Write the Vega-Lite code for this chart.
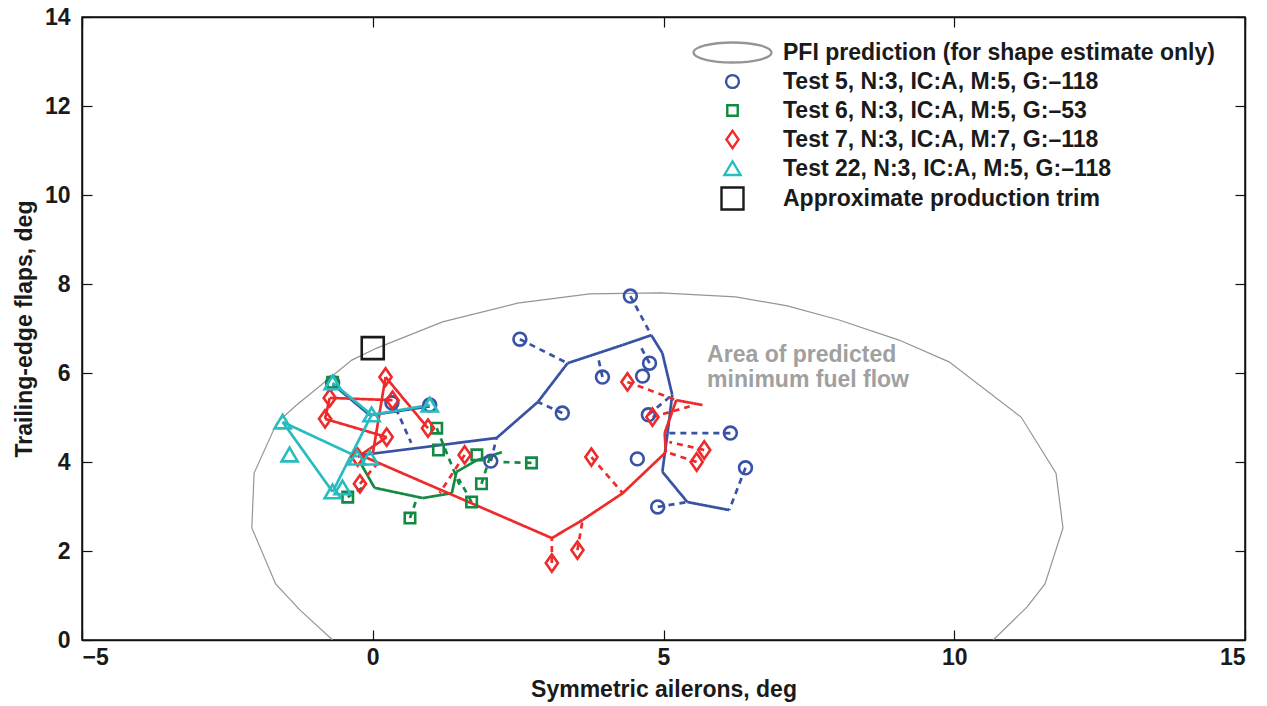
{
  "$schema": "https://vega.github.io/schema/vega-lite/v6.json",
  "width": 1163,
  "height": 623,
  "autosize": "none",
  "padding": {"left": 82, "top": 17, "right": 22, "bottom": 66},
  "background": "white",
  "config": {
    "font": "Liberation Sans",
    "view": {"stroke": "#111111", "strokeWidth": 1.5},
    "axis": {
      "grid": false,
      "domainColor": "#111111",
      "domainWidth": 1.5,
      "tickColor": "#111111",
      "tickWidth": 1.2,
      "tickSize": -10,
      "labelFont": "Liberation Sans",
      "labelFontSize": 23,
      "labelFontWeight": "bold",
      "labelColor": "#1a1a1a",
      "titleFont": "Liberation Sans",
      "titleFontSize": 23,
      "titleFontWeight": "bold",
      "titleColor": "#1a1a1a"
    }
  },
  "datasets": {
    "pfi": [
      {"i": 0, "x": -0.69, "y": 0},
      {"i": 1, "x": -1.25, "y": 0.67},
      {"i": 2, "x": -1.67, "y": 1.26},
      {"i": 3, "x": -2.08, "y": 2.52},
      {"i": 4, "x": -2.04, "y": 3.75},
      {"i": 5, "x": -1.65, "y": 4.88},
      {"i": 6, "x": -1.31, "y": 5.28},
      {"i": 7, "x": -0.36, "y": 6.29},
      {"i": 8, "x": 0.07, "y": 6.56},
      {"i": 9, "x": 1.2, "y": 7.15},
      {"i": 10, "x": 2.49, "y": 7.57},
      {"i": 11, "x": 3.73, "y": 7.78},
      {"i": 12, "x": 4.95, "y": 7.8},
      {"i": 13, "x": 6.24, "y": 7.71},
      {"i": 14, "x": 7.13, "y": 7.51},
      {"i": 15, "x": 8.02, "y": 7.19},
      {"i": 16, "x": 9.05, "y": 6.74},
      {"i": 17, "x": 9.91, "y": 6.25},
      {"i": 18, "x": 11.15, "y": 5.01},
      {"i": 19, "x": 11.75, "y": 3.75},
      {"i": 20, "x": 11.87, "y": 2.52},
      {"i": 21, "x": 11.56, "y": 1.26},
      {"i": 22, "x": 11.25, "y": 0.74},
      {"i": 23, "x": 10.67, "y": 0}
    ],
    "seg": [
      {"series": "Test 5", "style": "solid", "x": -0.69, "y": 5.75, "x2": -0.05, "y2": 5.05},
      {"series": "Test 5", "style": "solid", "x": -0.05, "y": 5.05, "x2": 0.98, "y2": 5.25},
      {"series": "Test 5", "style": "solid", "x": -0.17, "y": 4.16, "x2": 2.13, "y2": 4.54},
      {"series": "Test 5", "style": "solid", "x": 2.13, "y": 4.54, "x2": 2.84, "y2": 5.35},
      {"series": "Test 5", "style": "solid", "x": 2.84, "y": 5.35, "x2": 3.35, "y2": 6.22},
      {"series": "Test 5", "style": "solid", "x": 3.35, "y": 6.22, "x2": 4.3, "y2": 6.63},
      {"series": "Test 5", "style": "solid", "x": 4.3, "y": 6.63, "x2": 4.79, "y2": 6.85},
      {"series": "Test 5", "style": "solid", "x": 4.79, "y": 6.85, "x2": 4.98, "y2": 6.45},
      {"series": "Test 5", "style": "solid", "x": 4.98, "y": 6.45, "x2": 5.15, "y2": 5.51},
      {"series": "Test 5", "style": "solid", "x": 5.15, "y": 5.51, "x2": 5.07, "y2": 4.65},
      {"series": "Test 5", "style": "solid", "x": 5.07, "y": 4.65, "x2": 4.98, "y2": 3.78},
      {"series": "Test 5", "style": "solid", "x": 4.98, "y": 3.78, "x2": 5.41, "y2": 3.1},
      {"series": "Test 5", "style": "solid", "x": 5.41, "y": 3.1, "x2": 6.13, "y2": 2.92},
      {"series": "Test 5", "style": "dashed", "x": 2.53, "y": 6.76, "x2": 3.35, "y2": 6.22},
      {"series": "Test 5", "style": "dashed", "x": 4.43, "y": 7.73, "x2": 4.79, "y2": 6.85},
      {"series": "Test 5", "style": "dashed", "x": 3.26, "y": 5.1, "x2": 2.84, "y2": 5.35},
      {"series": "Test 5", "style": "dashed", "x": 3.95, "y": 5.91, "x2": 3.87, "y2": 6.38},
      {"series": "Test 5", "style": "dashed", "x": 4.76, "y": 6.22, "x2": 4.62, "y2": 6.56},
      {"series": "Test 5", "style": "dashed", "x": 4.74, "y": 5.06, "x2": 5.15, "y2": 5.51},
      {"series": "Test 5", "style": "dashed", "x": 6.15, "y": 4.65, "x2": 5.07, "y2": 4.65},
      {"series": "Test 5", "style": "dashed", "x": 6.41, "y": 3.87, "x2": 6.13, "y2": 2.92},
      {"series": "Test 5", "style": "dashed", "x": 4.9, "y": 2.99, "x2": 5.41, "y2": 3.1},
      {"series": "Test 5", "style": "dashed", "x": 0.4, "y": 5.2, "x2": 0.66, "y2": 4.43},
      {"series": "Test 5", "style": "dashed", "x": 2.03, "y": 4.02, "x2": 2.13, "y2": 4.54},
      {"series": "Test 6", "style": "solid", "x": -0.22, "y": 4.0, "x2": 0.03, "y2": 3.42},
      {"series": "Test 6", "style": "solid", "x": 0.03, "y": 3.42, "x2": 0.86, "y2": 3.19},
      {"series": "Test 6", "style": "solid", "x": 0.86, "y": 3.19, "x2": 1.36, "y2": 3.3},
      {"series": "Test 6", "style": "solid", "x": 1.36, "y": 3.3, "x2": 1.44, "y2": 3.78},
      {"series": "Test 6", "style": "solid", "x": 1.44, "y": 3.78, "x2": 1.79, "y2": 4.04},
      {"series": "Test 6", "style": "solid", "x": 1.79, "y": 4.04, "x2": 2.22, "y2": 4.22},
      {"series": "Test 6", "style": "dashed", "x": 1.1, "y": 4.76, "x2": 1.52, "y2": 3.4},
      {"series": "Test 6", "style": "dashed", "x": 1.87, "y": 3.51, "x2": 2.02, "y2": 4.13},
      {"series": "Test 6", "style": "dashed", "x": 1.7, "y": 3.1, "x2": 1.48, "y2": 3.62},
      {"series": "Test 6", "style": "dashed", "x": 2.73, "y": 3.98, "x2": 2.2, "y2": 4.0},
      {"series": "Test 6", "style": "dashed", "x": 0.64, "y": 2.74, "x2": 0.75, "y2": 3.15},
      {"series": "Test 6", "style": "dashed", "x": -0.43, "y": 3.21, "x2": -0.15, "y2": 3.45},
      {"series": "Test 7", "style": "solid", "x": -0.74, "y": 5.44, "x2": 0.34, "y2": 5.39},
      {"series": "Test 7", "style": "solid", "x": -0.82, "y": 4.97, "x2": -0.74, "y2": 5.44},
      {"series": "Test 7", "style": "solid", "x": -0.82, "y": 4.97, "x2": 0.24, "y2": 4.56},
      {"series": "Test 7", "style": "solid", "x": 0.22, "y": 5.91, "x2": 0.95, "y2": 4.76},
      {"series": "Test 7", "style": "solid", "x": 0.0, "y": 4.18, "x2": 0.22, "y2": 5.91},
      {"series": "Test 7", "style": "solid", "x": -0.26, "y": 4.11, "x2": 0.24, "y2": 4.56},
      {"series": "Test 7", "style": "solid", "x": -0.2, "y": 4.15, "x2": 3.08, "y2": 2.29},
      {"series": "Test 7", "style": "solid", "x": 3.08, "y": 2.29, "x2": 3.61, "y2": 2.7},
      {"series": "Test 7", "style": "solid", "x": 3.61, "y": 2.7, "x2": 4.3, "y2": 3.3},
      {"series": "Test 7", "style": "solid", "x": 4.3, "y": 3.3, "x2": 5.04, "y2": 4.22},
      {"series": "Test 7", "style": "solid", "x": 5.04, "y": 4.22, "x2": 5.02, "y2": 4.65},
      {"series": "Test 7", "style": "solid", "x": 5.02, "y": 4.65, "x2": 5.22, "y2": 5.39},
      {"series": "Test 7", "style": "solid", "x": 5.22, "y": 5.39, "x2": 5.67, "y2": 5.28},
      {"series": "Test 7", "style": "dashed", "x": 4.38, "y": 5.8, "x2": 5.22, "y2": 5.39},
      {"series": "Test 7", "style": "dashed", "x": 3.76, "y": 4.11, "x2": 4.3, "y2": 3.3},
      {"series": "Test 7", "style": "dashed", "x": 3.52, "y": 2.02, "x2": 3.61, "y2": 2.7},
      {"series": "Test 7", "style": "dashed", "x": 3.08, "y": 1.73, "x2": 3.08, "y2": 2.29},
      {"series": "Test 7", "style": "dashed", "x": 4.81, "y": 5.01, "x2": 5.45, "y2": 5.25},
      {"series": "Test 7", "style": "dashed", "x": 5.7, "y": 4.27, "x2": 5.1, "y2": 4.45},
      {"series": "Test 7", "style": "dashed", "x": 5.57, "y": 4.0, "x2": 5.06, "y2": 4.22},
      {"series": "Test 7", "style": "dashed", "x": 1.58, "y": 4.16, "x2": 1.15, "y2": 3.3},
      {"series": "Test 7", "style": "dashed", "x": -0.22, "y": 3.51, "x2": 0.07, "y2": 3.95},
      {"series": "Test 22", "style": "solid", "x": -0.69, "y": 5.78, "x2": -0.02, "y2": 5.06},
      {"series": "Test 22", "style": "solid", "x": -0.02, "y": 5.06, "x2": 0.98, "y2": 5.28},
      {"series": "Test 22", "style": "solid", "x": -1.55, "y": 4.9, "x2": -0.27, "y2": 4.12},
      {"series": "Test 22", "style": "solid", "x": -0.69, "y": 3.33, "x2": -1.55, "y2": 4.9},
      {"series": "Test 22", "style": "solid", "x": -0.69, "y": 3.33, "x2": -0.02, "y2": 5.06}
    ],
    "pts": [
      {"series": "Test 5, N:3, IC:A, M:5, G:–118", "x": 2.53, "y": 6.76},
      {"series": "Test 5, N:3, IC:A, M:5, G:–118", "x": 4.43, "y": 7.73},
      {"series": "Test 5, N:3, IC:A, M:5, G:–118", "x": 4.76, "y": 6.22},
      {"series": "Test 5, N:3, IC:A, M:5, G:–118", "x": 4.64, "y": 5.93},
      {"series": "Test 5, N:3, IC:A, M:5, G:–118", "x": 3.95, "y": 5.91},
      {"series": "Test 5, N:3, IC:A, M:5, G:–118", "x": 3.26, "y": 5.1},
      {"series": "Test 5, N:3, IC:A, M:5, G:–118", "x": 4.74, "y": 5.06},
      {"series": "Test 5, N:3, IC:A, M:5, G:–118", "x": 6.15, "y": 4.65},
      {"series": "Test 5, N:3, IC:A, M:5, G:–118", "x": 6.41, "y": 3.87},
      {"series": "Test 5, N:3, IC:A, M:5, G:–118", "x": 4.55, "y": 4.07},
      {"series": "Test 5, N:3, IC:A, M:5, G:–118", "x": 4.9, "y": 2.99},
      {"series": "Test 5, N:3, IC:A, M:5, G:–118", "x": 2.03, "y": 4.02},
      {"series": "Test 5, N:3, IC:A, M:5, G:–118", "x": 0.33, "y": 5.33},
      {"series": "Test 5, N:3, IC:A, M:5, G:–118", "x": -0.69, "y": 5.78},
      {"series": "Test 5, N:3, IC:A, M:5, G:–118", "x": 0.98, "y": 5.28},
      {"series": "Test 6, N:3, IC:A, M:5, G:–53", "x": 1.1, "y": 4.76},
      {"series": "Test 6, N:3, IC:A, M:5, G:–53", "x": 1.13, "y": 4.27},
      {"series": "Test 6, N:3, IC:A, M:5, G:–53", "x": 1.79, "y": 4.16},
      {"series": "Test 6, N:3, IC:A, M:5, G:–53", "x": 1.87, "y": 3.51},
      {"series": "Test 6, N:3, IC:A, M:5, G:–53", "x": 1.7, "y": 3.1},
      {"series": "Test 6, N:3, IC:A, M:5, G:–53", "x": 0.64, "y": 2.74},
      {"series": "Test 6, N:3, IC:A, M:5, G:–53", "x": -0.43, "y": 3.21},
      {"series": "Test 6, N:3, IC:A, M:5, G:–53", "x": 2.73, "y": 3.98},
      {"series": "Test 6, N:3, IC:A, M:5, G:–53", "x": -0.69, "y": 5.79},
      {"series": "Test 7, N:3, IC:A, M:7, G:–118", "x": 0.22, "y": 5.91},
      {"series": "Test 7, N:3, IC:A, M:7, G:–118", "x": -0.74, "y": 5.44},
      {"series": "Test 7, N:3, IC:A, M:7, G:–118", "x": -0.82, "y": 4.97},
      {"series": "Test 7, N:3, IC:A, M:7, G:–118", "x": 0.34, "y": 5.39},
      {"series": "Test 7, N:3, IC:A, M:7, G:–118", "x": 0.24, "y": 4.56},
      {"series": "Test 7, N:3, IC:A, M:7, G:–118", "x": 0.95, "y": 4.76},
      {"series": "Test 7, N:3, IC:A, M:7, G:–118", "x": -0.22, "y": 3.51},
      {"series": "Test 7, N:3, IC:A, M:7, G:–118", "x": -0.26, "y": 4.11},
      {"series": "Test 7, N:3, IC:A, M:7, G:–118", "x": 1.58, "y": 4.16},
      {"series": "Test 7, N:3, IC:A, M:7, G:–118", "x": 4.38, "y": 5.8},
      {"series": "Test 7, N:3, IC:A, M:7, G:–118", "x": 3.76, "y": 4.11},
      {"series": "Test 7, N:3, IC:A, M:7, G:–118", "x": 3.52, "y": 2.02},
      {"series": "Test 7, N:3, IC:A, M:7, G:–118", "x": 3.08, "y": 1.73},
      {"series": "Test 7, N:3, IC:A, M:7, G:–118", "x": 4.81, "y": 5.01},
      {"series": "Test 7, N:3, IC:A, M:7, G:–118", "x": 5.57, "y": 4.0},
      {"series": "Test 7, N:3, IC:A, M:7, G:–118", "x": 5.7, "y": 4.27},
      {"series": "Test 22, N:3, IC:A, M:5, G:–118", "x": -0.69, "y": 5.78},
      {"series": "Test 22, N:3, IC:A, M:5, G:–118", "x": -0.02, "y": 5.06},
      {"series": "Test 22, N:3, IC:A, M:5, G:–118", "x": 0.98, "y": 5.28},
      {"series": "Test 22, N:3, IC:A, M:5, G:–118", "x": -1.55, "y": 4.9},
      {"series": "Test 22, N:3, IC:A, M:5, G:–118", "x": -1.43, "y": 4.16},
      {"series": "Test 22, N:3, IC:A, M:5, G:–118", "x": -0.69, "y": 3.33},
      {"series": "Test 22, N:3, IC:A, M:5, G:–118", "x": -0.52, "y": 3.42},
      {"series": "Test 22, N:3, IC:A, M:5, G:–118", "x": -0.27, "y": 4.09},
      {"series": "Test 22, N:3, IC:A, M:5, G:–118", "x": -0.05, "y": 4.09},
      {"series": "Approximate production trim", "x": 0.0, "y": 6.56}
    ]
  },
  "layer": [
    {
      "data": {"name": "pfi"},
      "mark": {"type": "line", "color": "#959595", "strokeWidth": 1.2, "clip": true},
      "encoding": {
        "x": {"field": "x", "type": "quantitative", "scale": {"domain": [-5, 15], "nice": false, "zero": false},
              "axis": {"orient": "bottom", "values": [-5, 0, 5, 10, 15], "title": "Symmetric ailerons, deg", "labelPadding": 16, "titlePadding": 9}},
        "y": {"field": "y", "type": "quantitative", "scale": {"domain": [0, 14], "nice": false, "zero": false},
              "axis": {"orient": "left", "values": [0, 2, 4, 6, 8, 10, 12, 14], "title": "Trailing-edge flaps, deg", "labelPadding": 22, "titlePadding": 8}},
        "order": {"field": "i", "type": "quantitative"}
      }
    },
    {
      "data": {"name": "seg"},
      "mark": {"type": "rule", "strokeWidth": 2.7, "clip": true},
      "encoding": {
        "x": {"field": "x", "type": "quantitative",
              "axis": {"orient": "top", "values": [-5, 0, 5, 10, 15], "labels": false, "title": null}},
        "y": {"field": "y", "type": "quantitative",
              "axis": {"orient": "right", "values": [0, 2, 4, 6, 8, 10, 12, 14], "labels": false, "title": null}},
        "x2": {"field": "x2"},
        "y2": {"field": "y2"},
        "stroke": {"field": "series", "type": "nominal",
                   "scale": {"domain": ["Test 5", "Test 6", "Test 7", "Test 22"], "range": ["#3852a4", "#138a43", "#ee2a2a", "#27bcc0"]},
                   "legend": null},
        "strokeDash": {"field": "style", "type": "nominal",
                       "scale": {"domain": ["solid", "dashed"], "range": [[1, 0], [6, 5]]},
                       "legend": null}
      }
    },
    {
      "data": {"name": "pts"},
      "mark": {"type": "point", "filled": false, "strokeWidth": 2.6, "opacity": 1, "clip": true},
      "encoding": {
        "x": {"field": "x", "type": "quantitative", "axis": null},
        "y": {"field": "y", "type": "quantitative", "axis": null},
        "color": {"field": "series", "type": "nominal",
                  "scale": {"domain": ["PFI prediction (for shape estimate only)", "Test 5, N:3, IC:A, M:5, G:–118", "Test 6, N:3, IC:A, M:5, G:–53", "Test 7, N:3, IC:A, M:7, G:–118", "Test 22, N:3, IC:A, M:5, G:–118", "Approximate production trim"],
                            "range": ["#959595", "#3852a4", "#138a43", "#ee2a2a", "#27bcc0", "#1a1a1a"]},
                  "legend": {"orient": "none", "legendX": 638, "legendY": 24, "title": null, "labelFont": "Liberation Sans", "labelFontSize": 23, "labelFontWeight": "bold", "labelColor": "#1a1a1a", "labelOffset": 38, "labelLimit": 0, "symbolStrokeWidth": 2.4, "rowPadding": -4, "gridAlign": "all"}},
        "shape": {"field": "series", "type": "nominal",
                  "scale": {"domain": ["PFI prediction (for shape estimate only)", "Test 5, N:3, IC:A, M:5, G:–118", "Test 6, N:3, IC:A, M:5, G:–53", "Test 7, N:3, IC:A, M:7, G:–118", "Test 22, N:3, IC:A, M:5, G:–118", "Approximate production trim"],
                            "range": ["M-7.8,0A7.8,2 0 1,1 7.8,0A7.8,2 0 1,1 -7.8,0Z", "circle", "square", "M0,-1L0.7,0L0,1L-0.7,0Z", "M0,-0.9L1,0.8L-1,0.8Z", "square"]}},
        "size": {"field": "series", "type": "nominal",
                 "scale": {"type": "ordinal", "domain": ["PFI prediction (for shape estimate only)", "Test 5, N:3, IC:A, M:5, G:–118", "Test 6, N:3, IC:A, M:5, G:–53", "Test 7, N:3, IC:A, M:7, G:–118", "Test 22, N:3, IC:A, M:5, G:–118", "Approximate production trim"],
                           "range": [100, 165, 110, 300, 260, 484]}}
      }
    },
    {
      "data": {"values": [{}]},
      "mark": {"type": "text", "text": ["Area of predicted", "minimum fuel flow"], "align": "left", "baseline": "middle", "font": "Liberation Sans", "fontSize": 23, "fontWeight": "bold", "color": "#a0a0a0", "lineHeight": 25},
      "encoding": {
        "x": {"datum": 5.75, "type": "quantitative", "axis": null},
        "y": {"datum": 6.4, "type": "quantitative", "axis": null}
      }
    }
  ],
  "resolve": {"axis": {"x": "independent", "y": "independent"}}
}
